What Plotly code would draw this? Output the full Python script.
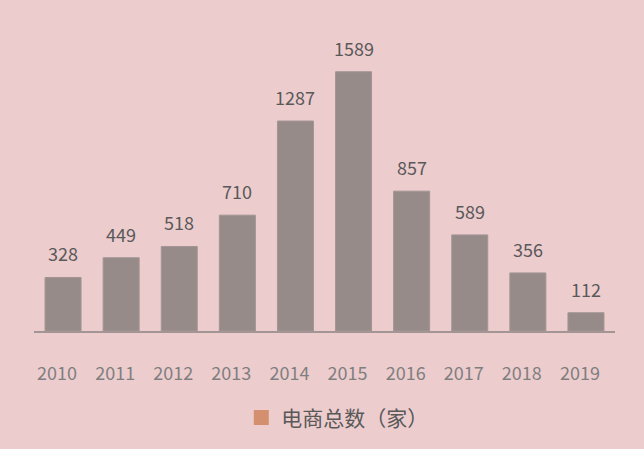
import plotly.graph_objects as go

years = ["2010", "2011", "2012", "2013", "2014", "2015", "2016", "2017", "2018", "2019"]
counts = [328, 449, 518, 710, 1287, 1589, 857, 589, 356, 112]
series_name = "电商总数（家）"

BG = "#EDCCCE"
FONT = "Noto Sans CJK SC"

fig = go.Figure()
fig.add_trace(go.Bar(
    x=years, y=counts, width=0.62,
    marker=dict(color="#978B8A", line=dict(color="#A39594", width=1)),
    showlegend=False, hoverinfo="x+y",
))
fig.add_trace(go.Scatter(
    x=[None], y=[None], mode="markers", name=series_name,
    marker=dict(symbol="square", size=15, color="#D4906E"),
))
for i, v in enumerate(counts):
    fig.add_annotation(x=i, y=v, xref="x", yref="y", text=str(v), showarrow=False,
                       yanchor="bottom", yshift=9,
                       font=dict(size=18, color="#595959", family=FONT))

fig.update_layout(
    width=644, height=449,
    paper_bgcolor=BG, plot_bgcolor=BG,
    margin=dict(l=34, r=29, t=21, b=117),
    font=dict(family=FONT, color="#7F7F7F"),
    showlegend=True,
    legend=dict(orientation="h", x=0.522, xanchor="center", y=-0.21, yanchor="top",
                font=dict(size=21, color="#595959", family=FONT), bgcolor="rgba(0,0,0,0)"),
    xaxis=dict(type="category", showgrid=False, showline=True, linecolor="#A39594", linewidth=1.5,
               ticks="", tickfont=dict(size=18, color="#7F7F7F"), ticklabelstandoff=26,
               ticklabelshift=-6, range=[-0.5, 9.5]),
    yaxis=dict(range=[0, 1900], visible=False, showgrid=False, zeroline=False),
)

fig.write_html("out.html", config={"displayModeBar": False},
               post_script="document.body.style.margin='0';")
